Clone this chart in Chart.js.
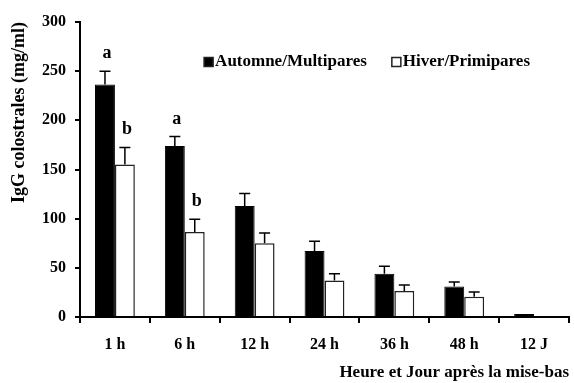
<!DOCTYPE html>
<html lang="fr">
<head>
  <meta charset="UTF-8">
  <title>IgG colostrales</title>
  <script src="https://cdn.jsdelivr.net/npm/chart.js"></script>
  <style>
    html, body {
      margin: 0;
      padding: 0;
      background: #fff;
    }
    .wrap {
      width: 574px;
      height: 383px;
    }
  </style>
</head>
<body>
  <div class="wrap"><canvas id="igg"></canvas></div>

  <script>
    const categories = ['1 h', '6 h', '12 h', '24 h', '36 h', '48 h', '12 J'];
    const automne = [236.5, 174, 113, 67, 44, 31, 3];
    const automneErr = [13.5, 9.5, 12.5, 10, 7.5, 4.5, 0];
    const hiver = [155, 86.5, 75, 37, 26.5, 20.5, null];
    const hiverErr = [17.5, 13, 10.5, 7, 6, 5, 0];
    const automneLetters = ['a', 'a', '', '', '', '', ''];
    const hiverLetters = ['b', 'b', '', '', '', '', ''];

    const serif = "'Liberation Serif', 'Times New Roman', serif";

    // error bars (upper half only) + significance letters
    const errorBars = {
      id: 'errorBars',
      afterDatasetsDraw(chart) {
        const ctx = chart.ctx;
        const y = chart.scales.y;
        const errs = [automneErr, hiverErr];
        const letters = [automneLetters, hiverLetters];
        ctx.save();
        ctx.strokeStyle = '#000';
        ctx.lineWidth = 1.5;
        chart.data.datasets.forEach((ds, d) => {
          const meta = chart.getDatasetMeta(d);
          meta.data.forEach((bar, i) => {
            const v = ds.data[i];
            if (v == null) return;
            const e = errs[d][i];
            const top = y.getPixelForValue(v + e);
            if (e > 0) {
              ctx.beginPath();
              ctx.moveTo(bar.x, y.getPixelForValue(v));
              ctx.lineTo(bar.x, top);
              ctx.moveTo(bar.x - 5.5, top);
              ctx.lineTo(bar.x + 5.5, top);
              ctx.stroke();
            }
            if (letters[d][i]) {
              ctx.fillStyle = '#000';
              ctx.font = 'bold 18px ' + serif;
              ctx.textAlign = 'center';
              ctx.textBaseline = 'alphabetic';
              ctx.fillText(letters[d][i], bar.x + 2, top - 13);
            }
          });
        });
        ctx.restore();
      }
    };

    // legend drawn inside the plot, upper right
    const innerLegend = {
      id: 'innerLegend',
      afterDraw(chart) {
        const ctx = chart.ctx;
        const area = chart.chartArea;
        const box = 9, gap = 2, spacing = 25;
        ctx.save();
        ctx.font = 'bold 17px ' + serif;
        ctx.textBaseline = 'middle';
        ctx.textAlign = 'left';
        const items = chart.data.datasets.map(ds => ({
          text: ds.label, fill: ds.backgroundColor, stroke: ds.borderColor,
          w: box + gap + ctx.measureText(ds.label).width
        }));
        const total = items.reduce((s, it) => s + it.w, 0) + spacing * (items.length - 1);
        let x = area.right - 39 - total;
        const yMid = area.top + 40;
        items.forEach(it => {
          ctx.fillStyle = it.fill;
          ctx.fillRect(x, yMid - box / 2, box, box);
          ctx.strokeStyle = '#222';
          ctx.lineWidth = 1.5;
          ctx.strokeRect(x, yMid - box / 2, box, box);
          ctx.fillStyle = '#000';
          ctx.fillText(it.text, x + box + gap, yMid);
          x += it.w + spacing;
        });
        ctx.restore();
      }
    };

    new Chart(document.getElementById('igg'), {
      type: 'bar',
      data: {
        labels: categories,
        datasets: [{
          label: 'Automne/Multipares',
          data: automne,
          backgroundColor: '#000',
          borderColor: '#000',
          borderWidth: 1
        }, {
          label: 'Hiver/Primipares',
          data: hiver,
          backgroundColor: '#fff',
          borderColor: '#222',
          borderWidth: 1.5
        }]
      },
      options: {
        responsive: true,
        maintainAspectRatio: false,
        animation: false,
        categoryPercentage: 0.57,
        barPercentage: 1,
        layout: { padding: { top: 22, right: 5, left: 0, bottom: 0 } },
        plugins: {
          tooltip: { enabled: false },
          legend: { display: false }
        },
        scales: {
          x: {
            grid: {
              offset: true,
              drawOnChartArea: false,
              color: '#000',
              lineWidth: 2,
              tickLength: 6
            },
            border: { color: '#000', width: 2 },
            ticks: {
              color: '#000',
              padding: 12,
              font: { family: serif, size: 16, weight: 'bold' }
            },
            title: {
              display: true,
              text: 'Heure et Jour après la mise-bas',
              align: 'end',
              color: '#000',
              font: { family: serif, size: 17, weight: 'bold' },
              padding: 0
            },
            afterFit(scale) { scale.height = 66; }
          },
          y: {
            min: 0,
            max: 300,
            grid: {
              drawOnChartArea: false,
              color: '#000',
              lineWidth: 2,
              tickLength: 5
            },
            border: { color: '#000', width: 2 },
            ticks: {
              stepSize: 50,
              color: '#000',
              padding: 9,
              font: { family: serif, size: 16, weight: 'bold' }
            },
            title: {
              display: true,
              text: 'IgG colostrales (mg/ml)',
              align: 'end',
              color: '#000',
              font: { family: serif, size: 18, weight: 'bold' },
              padding: { top: 9, bottom: 0 }
            },
            afterFit(scale) { scale.width = 80; }
          }
        }
      },
      plugins: [errorBars, innerLegend]
    });
  </script>
</body>
</html>
